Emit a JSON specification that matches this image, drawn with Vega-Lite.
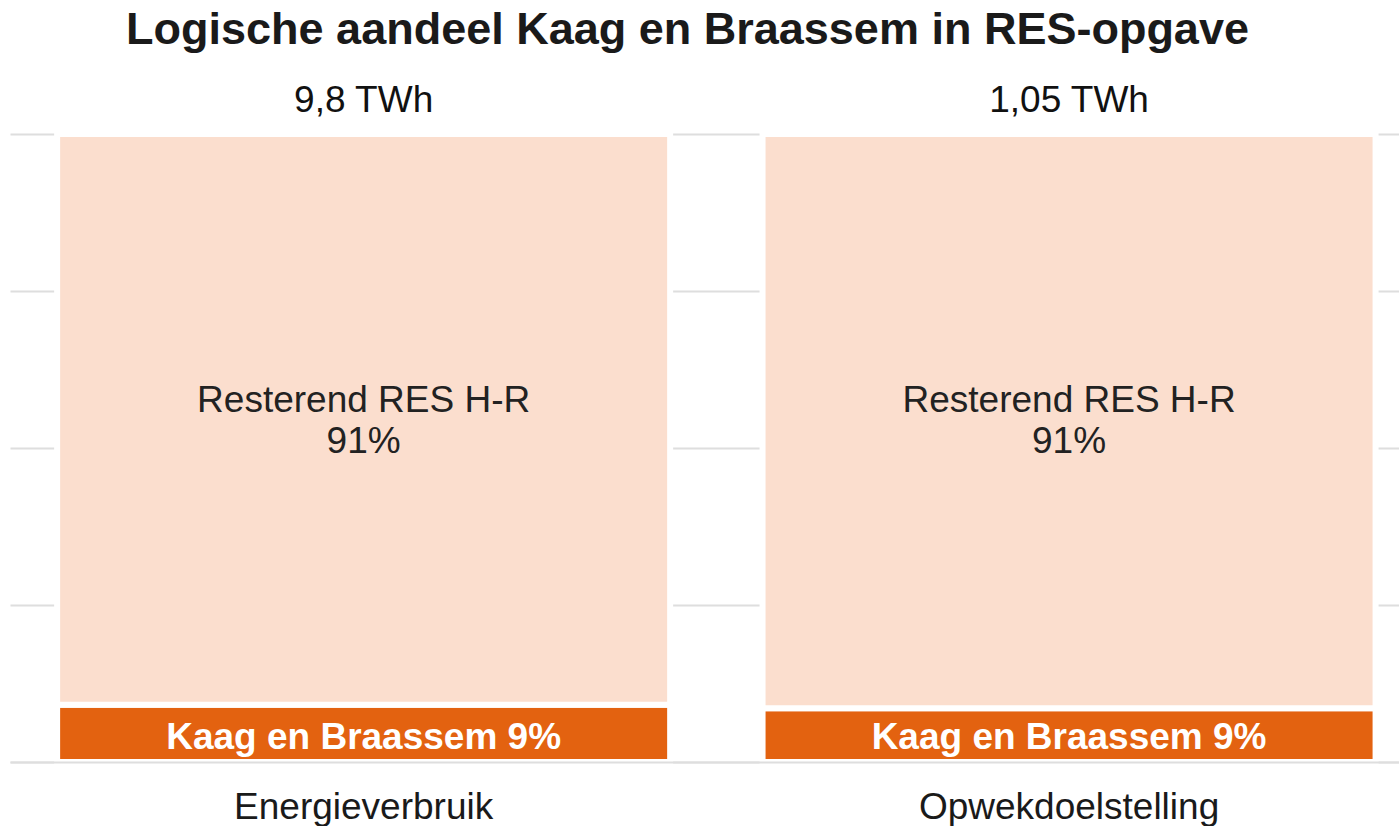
{
  "$schema": "https://vega.github.io/schema/vega-lite/v6.json",
  "autosize": {"type": "none"},
  "padding": {"left": 10, "top": 134, "right": 0, "bottom": 64},
  "width": 1389,
  "height": 628,
  "background": "white",
  "config": {
    "view": {"stroke": null},
    "font": "Liberation Sans"
  },
  "title": {
    "text": "Logische aandeel Kaag en Braassem in RES-opgave",
    "font": "Liberation Sans",
    "fontSize": 45,
    "fontWeight": "bold",
    "color": "#1a1a1a",
    "anchor": "middle",
    "frame": "group",
    "baseline": "alphabetic",
    "offset": 40,
    "dx": -17,
    "dy": 47
  },
  "data": {
    "values": [
      {"cat": "Energieverbruik", "segment": "Kaag en Braassem", "share": 0.0912, "label": "Kaag en Braassem 9%", "total": "9,8 TWh"},
      {"cat": "Energieverbruik", "segment": "Resterend RES H-R", "share": 0.9088, "label": ["Resterend RES H-R", "91%"]},
      {"cat": "Opwekdoelstelling", "segment": "Kaag en Braassem", "share": 0.0856, "label": "Kaag en Braassem 9%", "total": "1,05 TWh"},
      {"cat": "Opwekdoelstelling", "segment": "Resterend RES H-R", "share": 0.9144, "label": ["Resterend RES H-R", "91%"]}
    ]
  },
  "encoding": {
    "x": {
      "field": "cat",
      "type": "nominal",
      "sort": ["Energieverbruik", "Opwekdoelstelling"],
      "scale": {"paddingInner": 0.131, "paddingOuter": 0.05, "align": 0.668},
      "axis": {
        "title": null,
        "labelAngle": 0,
        "labelFont": "Liberation Sans",
        "labelFontSize": 37,
        "labelColor": "#1a1a1a",
        "labelBaseline": "alphabetic",
        "labelPadding": 56,
        "labelLimit": 0,
        "ticks": false,
        "domain": true,
        "domainColor": "#dedede",
        "domainWidth": 2,
        "grid": false,
        "zindex": 1
      }
    }
  },
  "layer": [
    {
      "mark": {"type": "bar", "stroke": "white", "strokeWidth": 6},
      "encoding": {
        "y": {
          "field": "share",
          "type": "quantitative",
          "stack": "zero",
          "scale": {"domain": [0, 1], "nice": false},
          "axis": {
            "title": null,
            "labels": false,
            "ticks": false,
            "domain": false,
            "grid": true,
            "values": [0, 0.25, 0.5, 0.75, 1],
            "gridColor": "#dedede",
            "gridWidth": 2
          }
        },
        "color": {
          "field": "segment",
          "type": "nominal",
          "scale": {"domain": ["Kaag en Braassem", "Resterend RES H-R"], "range": ["#E36210", "#FBDECE"]},
          "legend": null
        },
        "order": {"field": "segment", "sort": "ascending"}
      }
    },
    {
      "transform": [{"filter": "datum.total != null"}],
      "mark": {"type": "text", "fontSize": 37, "color": "#111111", "baseline": "alphabetic", "align": "center", "dy": -22},
      "encoding": {
        "y": {"datum": 1},
        "text": {"field": "total", "type": "nominal"}
      }
    },
    {
      "transform": [{"filter": {"field": "segment", "equal": "Kaag en Braassem"}}],
      "mark": {"type": "text", "fontSize": 37, "fontWeight": "bold", "color": "white", "baseline": "alphabetic", "align": "center", "dy": -13},
      "encoding": {
        "y": {"datum": 0},
        "text": {"field": "label", "type": "nominal"}
      }
    },
    {
      "transform": [{"filter": {"field": "segment", "equal": "Resterend RES H-R"}}],
      "mark": {"type": "text", "fontSize": 37, "color": "#222222", "baseline": "alphabetic", "align": "center", "dy": 278, "lineHeight": 41},
      "encoding": {
        "y": {"datum": 1},
        "text": {"field": "label", "type": "nominal"}
      }
    }
  ]
}
